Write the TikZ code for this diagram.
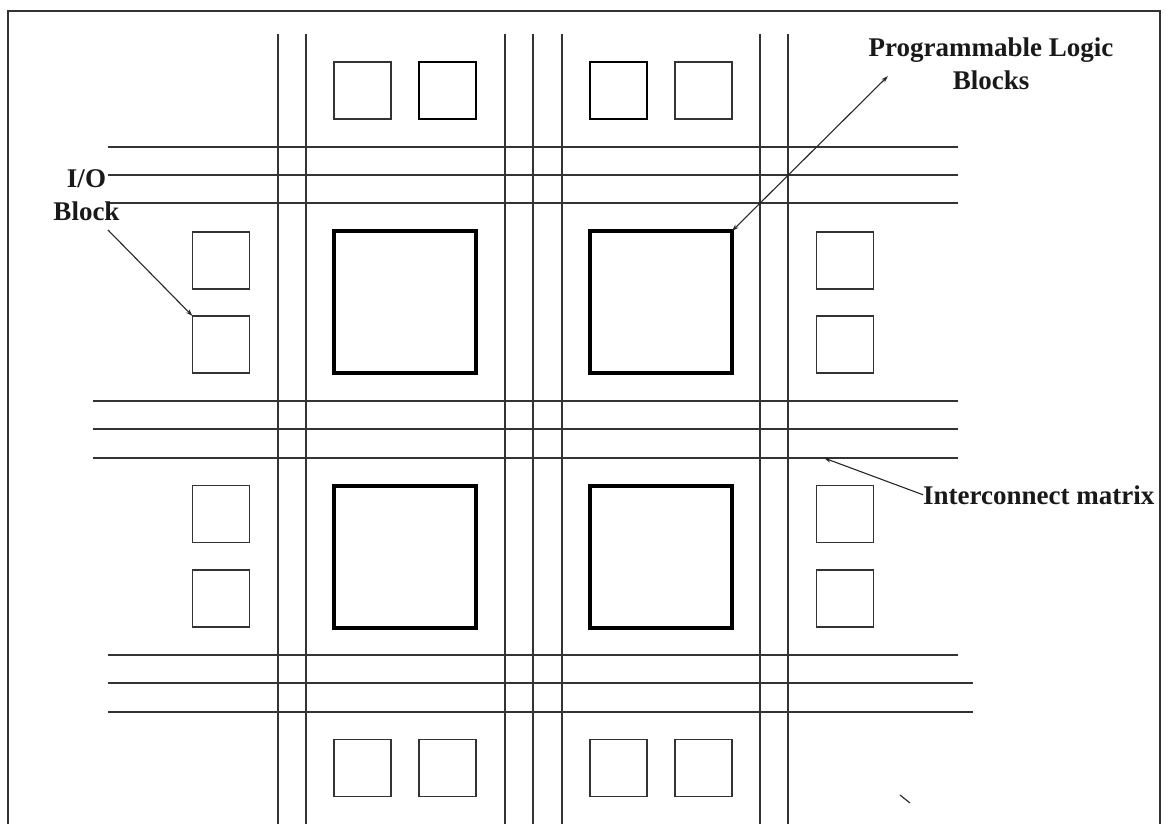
\documentclass[tikz,border=0pt]{standalone}
\usepackage{fontspec}
\setmainfont{Liberation Serif}
\usetikzlibrary{arrows.meta}
\begin{document}
\begin{tikzpicture}[x=1pt,y=-1pt,
  wire/.style={draw=black!80,line width=1.6pt},
  iobox/.style={draw=black!80,line width=1.5pt,minimum width=57pt,minimum height=57pt,inner sep=0pt,outer sep=0pt},
  iothick/.style={iobox,draw=black,line width=2.1pt},
  plbox/.style={draw=black,line width=3.4pt,minimum width=142pt,minimum height=142pt,inner sep=0pt,outer sep=0pt},
  lbl/.style={font=\fontsize{27}{33}\selectfont\bfseries,inner sep=0pt,text=black!90},
  pointer/.style={draw=black!85,line width=1.1pt,-{Stealth[length=7pt,width=4.5pt]}},
  pointer2/.style={draw=black!85,line width=1.1pt,{Stealth[length=7pt,width=4.5pt]}-{Stealth[length=7pt,width=4.5pt]}}]
\useasboundingbox (0,0) rectangle (1166,824);
% outer frame
\draw[black!80,line width=1.6pt] (8,824) -- (8,11) -- (1160,11) -- (1160,824);
% vertical routing lines
\foreach \x in {278,306,505,533,562,760,788}
  \draw[wire] (\x,34) -- (\x,824);
% horizontal routing lines
\foreach \y in {147,175,203}
  \draw[wire] (108,\y) -- (958,\y);
\foreach \y in {401,429,458}
  \draw[wire] (93,\y) -- (958,\y);
\draw[wire] (108,655) -- (958,655);
\draw[wire] (108,683) -- (973,683);
\draw[wire] (108,712) -- (973,712);
% I/O blocks top
\node[iobox]   (t1) at (362.5,90.5) {};
\node[iothick] (t2) at (447.5,90.5) {};
\node[iothick] (t3) at (618.5,90.5) {};
\node[iobox]   (t4) at (703.5,90.5) {};
% I/O blocks bottom
\node[iobox] (b1) at (362.5,768) {};
\node[iobox] (b2) at (447.5,768) {};
\node[iobox] (b3) at (618.5,768) {};
\node[iobox] (b4) at (703.5,768) {};
% I/O blocks left
\node[iobox] (l1) at (221,260.5) {};
\node[iobox] (l2) at (221,344.5) {};
\node[iobox] (l3) at (221,514) {};
\node[iobox] (l4) at (221,598.5) {};
% I/O blocks right
\node[iobox] (r1) at (845,260.5) {};
\node[iobox] (r2) at (845,344.5) {};
\node[iobox] (r3) at (845,514) {};
\node[iobox] (r4) at (845,598.5) {};
% programmable logic blocks
\node[plbox] (p1) at (405,302) {};
\node[plbox] (p2) at (661,302) {};
\node[plbox] (p3) at (405,557) {};
\node[plbox] (p4) at (661,557) {};
% labels
\node[lbl,anchor=base] (io1) at (86.5,187) {I/O};
\node[lbl,anchor=base] (io2) at (86.5,220) {Block};
\node[lbl,anchor=base] (pl1) at (991,57) {Programmable Logic};
\node[lbl,anchor=base] (pl2) at (991,90) {Blocks};
\node[lbl,anchor=base west] (im) at (923,504) {Interconnect matrix};
% pointer coordinates
\coordinate (ioStart) at (108,230);
\coordinate (plEnd) at (888,76);
\coordinate (imEnd) at (824,458);
\coordinate (m1) at (900,795);
\coordinate (m2) at (910,803);
% pointers
\draw[pointer] (ioStart) -- (l2.north west);
\draw[pointer2] (p2.north east) -- (plEnd);
\draw[pointer] (im.west) -- (imEnd);
% stray mark
\draw[black!80,line width=1.2pt] (m1) -- (m2);
\end{tikzpicture}
\end{document}
